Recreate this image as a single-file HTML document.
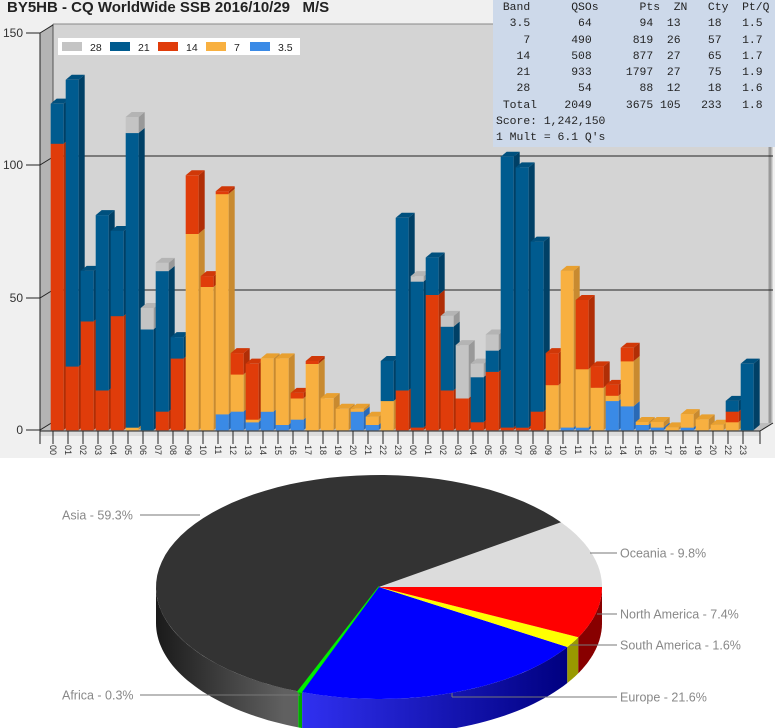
<!DOCTYPE html>
<html><head><meta charset="utf-8">
<style>
html,body{margin:0;padding:0;background:#fff;}
body{width:775px;height:728px;overflow:hidden;position:relative;font-family:"Liberation Sans",sans-serif;}
#top{position:absolute;left:0;top:0;width:775px;height:458px;background:#f0f0f0;}
#tbl{position:absolute;left:493px;top:0;width:282px;height:147px;background:#cdd9ea;font-family:"Liberation Mono",monospace;font-size:11.4px;line-height:16.3px;color:#222;white-space:pre;padding:0 0 0 3px;box-sizing:border-box;overflow:hidden;}
</style></head><body>
<div id="top">
<svg id="bars" width="775" height="458" style="position:absolute;left:0;top:0"></svg>
<div style="position:absolute;left:7px;top:-1px;font-weight:bold;font-size:15px;color:#222;">BY5HB - CQ WorldWide SSB 2016/10/29 &nbsp;&nbsp;M/S</div>
<div id="tbl"> Band      QSOs      Pts  ZN   Cty  Pt/Q
  3.5       64       94  13    18   1.5
    7      490      819  26    57   1.7
   14      508      877  27    65   1.7
   21      933     1797  27    75   1.9
   28       54       88  12    18   1.6
 Total    2049     3675 105   233   1.8
Score: 1,242,150
1 Mult = 6.1 Q's</div>
</div>
<svg id="pie" width="775" height="270" style="position:absolute;left:0;top:458px"></svg>
<script>
(function(){
var s=document.getElementById('bars'),h='';
h+='<polygon points="40,33 53,24 773,24 773,423 760,431 40,431" fill="#d4d4d4"/>';
h+='<polygon points="40,33 53,24 53,423 40,431" fill="#b4b4b4"/>';
h+='<polygon points="40,431 53,423 773,423 760,431" fill="#bdbdbd"/>';
h+='<polygon points="40,431 760,431 760,436 40,436" fill="#dcdcdc"/>';
h+='<line x1="53" y1="24" x2="773" y2="24" stroke="#888"/>';
h+='<line x1="53" y1="24" x2="53" y2="423" stroke="#555"/>';
h+='<line x1="770" y1="24" x2="770" y2="423" stroke="#999" stroke-width="3"/>';
[[100,156],[50,290]].forEach(function(g){h+='<line x1="53" y1="'+g[1]+'" x2="773" y2="'+g[1]+'" stroke="#222"/>';});
h+='<line x1="40" y1="33" x2="40" y2="444" stroke="#222"/>';
h+='<line x1="40" y1="431" x2="760" y2="431" stroke="#222"/>';
h+='<line x1="760" y1="431" x2="773" y2="423" stroke="#222"/><line x1="760" y1="431" x2="760" y2="444" stroke="#222"/>';
[[150,33],[100,165],[50,298],[0,430]].forEach(function(t){
 h+='<line x1="26" y1="'+t[1]+'" x2="40" y2="'+t[1]+'" stroke="#222"/><line x1="40" y1="'+t[1]+'" x2="53" y2="'+(t[1]-8)+'" stroke="#222"/>';
 h+='<text x="23" y="'+(t[1]+4)+'" font-size="12" text-anchor="end" fill="#333">'+t[0]+'</text>';});
var cols=['#3a8ae6','#f8b040','#e03c0a','#005b8f','#c4c4c4'];
var side=['#2a6ab6','#c88a30','#b02e06','#004066','#999'];
var topc=['#5aa0f0','#e8a030','#d03808','#00507e','#b4b4b4'];
var d=[[0,0,108,15,0],[0,0,24,108,0],[0,0,41,19,0],[0,0,15,66,0],[0,0,43,32,0],[0,1,0,111,6],[0,0,0,38,8],[0,0,7,53,3],[0,0,27,8,0],[0,74,22,0,0],[0,54,4,0,0],[6,83,1,0,0],[7,14,8,0,0],[3,1,21,0,0],[7,20,0,0,0],[2,25,0,0,0],[4,8,2,0,0],[0,25,1,0,0],[0,12,0,0,0],[0,8,0,0,0],[7,1,0,0,0],[2,3,0,0,0],[0,11,0,15,0],[0,0,15,65,0],
[0,0,1,55,2],[0,0,51,14,0],[0,0,15,24,4],[0,0,12,0,20],[0,0,3,17,5],[0,0,22,8,6],[0,0,1,102,0],[0,0,1,98,0],[0,0,7,64,0],[0,17,12,0,0],[1,59,0,0,0],[1,22,26,0,0],[0,16,8,0,0],[11,2,4,0,0],[9,17,5,0,0],[2,1,0,0,0],[1,2,0,0,0],[0,1,0,0,0],[1,5,0,0,0],[0,4,0,0,0],[0,2,0,0,0],[0,3,4,4,0],[0,0,0,25,0]];
var labs=[];for(var i=0;i<24;i++)labs.push((i<10?'0':'')+i);
for(var i=0;i<24;i++)if(i!=21)labs.push((i<10?'0':'')+i);
var k=2.653,w=13,dx=6,dy=5;
d.forEach(function(b,i){
 var x=50.7+15*i,y0=430,lastc=-1;
 b.forEach(function(v,j){ if(!v)return; var y1=y0-v*k;
  h+='<rect x="'+x.toFixed(1)+'" y="'+y1.toFixed(1)+'" width="'+w+'" height="'+(y0-y1+0.3).toFixed(1)+'" fill="'+cols[j]+'"/>';
  h+='<polygon points="'+(x+w)+','+y0+' '+(x+w+dx)+','+(y0-dy)+' '+(x+w+dx)+','+(y1-dy)+' '+(x+w)+','+y1+'" fill="'+side[j]+'"/>';
  y0=y1;lastc=j;});
 if(lastc>=0)h+='<polygon points="'+x+','+y0+' '+(x+dx)+','+(y0-dy)+' '+(x+w+dx)+','+(y0-dy)+' '+(x+w)+','+y0+'" fill="'+topc[lastc]+'"/>';
 var tx=53+15*i;
 h+='<line x1="'+tx+'" y1="431" x2="'+tx+'" y2="444" stroke="#222"/>';
 h+='<text transform="translate('+(tx-3)+',445) rotate(90)" font-size="9" fill="#333">'+labs[i]+'</text>';
});
h+='<rect x="58" y="38" width="242" height="17" fill="#fff"/>';
var lg=[['28',4,62],['21',3,110],['14',2,158],['7',1,206],['3.5',0,250]];
lg.forEach(function(l){h+='<rect x="'+l[2]+'" y="42" width="20" height="9" fill="'+cols[l[1]]+'"/><text x="'+(l[2]+28)+'" y="51" font-size="10.5" fill="#222">'+l[0]+'</text>';});
s.innerHTML=h;

var p=document.getElementById('pie'),g='';
var cx=379,cy=129,rx=223,ry=112,dp=36;
g+='<defs><linearGradient id="ga" x1="0" x2="1"><stop offset="0" stop-color="#1a1a1a"/><stop offset="0.9" stop-color="#606060"/></linearGradient>'+
'<linearGradient id="ge" x1="0" x2="1"><stop offset="0" stop-color="#3030f0"/><stop offset="1" stop-color="#000080"/></linearGradient></defs>';
function pt(a,yo){a=a*Math.PI/180;return (cx+rx*Math.cos(a)).toFixed(1)+','+(cy-ry*Math.sin(a)+yo).toFixed(1);}
var sl=[['Oceania',9.8,'#dcdcdc','#aaa'],['Asia',59.3,'#333333','url(#ga)'],['Africa',0.3,'#00ee00','#00aa00'],['Europe',21.6,'#0000ff','url(#ge)'],['South America',1.6,'#ffff00','#999900'],['North America',7.4,'#ff0000','#880000']];
var a=0;
sl.forEach(function(q){var a0=a,a1=a+q[1]*3.6;a=a1;q.push(a0,a1);
 var s0=Math.max(a0,180),s1=Math.min(a1,360);
 if(s1>s0){var pts=[];for(var t=s0;t<=s1+0.001;t+=(s1-s0)/40)pts.push(pt(t,0));
  for(var t=s1;t>=s0-0.001;t-=(s1-s0)/40)pts.push(pt(t,dp));
  g+='<polygon points="'+pts.join(' ')+'" fill="'+q[3]+'"/>';}
});
sl.forEach(function(q){var a0=q[4],a1=q[5],pts=[cx+','+cy];
 for(var t=a0;t<=a1+0.001;t+=(a1-a0)/60)pts.push(pt(t,0));
 g+='<polygon points="'+pts.join(' ')+'" fill="'+q[2]+'"'+(q[0]=='Africa'?' stroke="#00ee00" stroke-width="1.5"':'')+'/>';});
var L=[['Asia - 59.3%',62,57,140,200,57],['Africa - 0.3%',62,237,140,300,237],['Oceania - 9.8%',620,95,590,617,95],['North America - 7.4%',620,156,597,617,156],['South America - 1.6%',620,187,570,617,187],['Europe - 21.6%',620,239,452,617,239]];
L.forEach(function(l){g+='<line x1="'+l[3]+'" y1="'+l[5]+'" x2="'+l[4]+'" y2="'+l[5]+'" stroke="#777"/>';
 g+='<text x="'+l[1]+'" y="'+(l[2]+4.5)+'" font-size="12.5" fill="#888">'+l[0]+'</text>';});
g+='<line x1="452" y1="235" x2="452" y2="239" stroke="#777"/>';
p.innerHTML=g;
})();
</script>
</body></html>
